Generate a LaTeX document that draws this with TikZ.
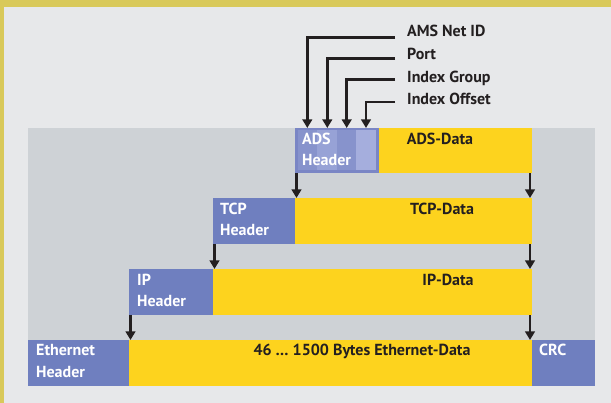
\documentclass[tikz,border=0pt]{standalone}
\usepackage{fontspec}
\setmainfont{PT Sans}
\usetikzlibrary{arrows.meta}
\definecolor{bgl}{HTML}{E7E8EA}
\definecolor{frameY}{HTML}{D9C95A}
\definecolor{panel}{HTML}{CED2D6}
\definecolor{hblue}{HTML}{6F7FBF}
\definecolor{dyel}{HTML}{FDD31E}
\definecolor{ink}{HTML}{231F20}
\definecolor{adsA}{HTML}{7A86C5}
\definecolor{adsB}{HTML}{8793CC}
\definecolor{adsC}{HTML}{97A2D6}
\definecolor{adsD}{HTML}{A5AEDD}
\begin{document}
\begin{tikzpicture}[x=1pt,y=-1pt,
  box/.style={anchor=north west,inner sep=0pt,outer sep=0pt,draw=none},
  hdr/.style={box,fill=hblue},
  dat/.style={box,fill=dyel},
  wtxt/.style={anchor=base west,inner sep=0pt,text=white,font=\bfseries\fontsize{16}{19}\selectfont},
  btxt/.style={anchor=base,inner sep=0pt,text=ink,font=\bfseries\fontsize{16}{19}\selectfont},
  ltxt/.style={anchor=base west,inner sep=0pt,text=ink,font=\bfseries\fontsize{16}{19}\selectfont},
  arr/.style={draw=ink,line width=2.8pt,-{Triangle[width=9.5pt,length=8.5pt]}}]
\useasboundingbox (0,0) rectangle (611,403);
% background
\fill[bgl] (0,0) rectangle (611,403);
\fill[frameY] (0,0) rectangle (611,7);
\fill[frameY] (0,0) rectangle (4,403);
\fill[panel] (28,128) rectangle (595,386);
% ADS row
\node[box,fill=adsA,minimum width=84pt,minimum height=45pt] (adsh) at (295,128) {};
\fill[adsB] (298,130.5) rectangle (317,170.5);
\fill[adsC] (317,130.5) rectangle (337,170.5);
\fill[adsB] (337,130.5) rectangle (356,170.5);
\fill[adsD] (356,130.5) rectangle (376,170.5);
\node[dat,minimum width=153pt,minimum height=45pt] (adsd) at (379,128) {};
% TCP row
\node[hdr,minimum width=82pt,minimum height=46pt] (tcph) at (213,198) {};
\node[dat,minimum width=237pt,minimum height=46pt] (tcpd) at (295,198) {};
% IP row
\node[hdr,minimum width=84pt,minimum height=46pt] (iph) at (129,269) {};
\node[dat,minimum width=319pt,minimum height=46pt] (ipd) at (213,269) {};
% Ethernet row
\node[hdr,minimum width=101pt,minimum height=46pt] (eth) at (28,340) {};
\node[dat,minimum width=403pt,minimum height=46pt] (ethd) at (129,340) {};
\node[hdr,minimum width=63pt,minimum height=46pt] (crc) at (532,340) {};
% texts
\node[wtxt] (t1) at (302,145) {ADS};
\node[wtxt] (t2) at (302,165.5) {Header};
\node[btxt] (t3) at (440,145) {ADS-Data};
\node[wtxt] (t4) at (220,215) {TCP};
\node[wtxt] (t5) at (220,236) {Header};
\node[btxt] (t6) at (442,215) {TCP-Data};
\node[wtxt] (t7) at (137,286) {IP};
\node[wtxt] (t8) at (137,307) {Header};
\node[btxt] (t9) at (448,286) {IP-Data};
\node[wtxt] (t10) at (36,356) {Ethernet};
\node[wtxt] (t11) at (36,377.5) {Header};
\node[btxt] (t12) at (362,356) {46 … 1500 Bytes Ethernet-Data};
\node[wtxt] (t13) at (539,356) {CRC};
% top labels
\node[ltxt] (ams) at (407,36.7) {AMS Net ID};
\node[ltxt] (port) at (407,59.5) {Port};
\node[ltxt] (ig) at (407,82.5) {Index Group};
\node[ltxt] (io) at (407,105) {Index Offset};
\draw[arr] ([xshift=-12pt,yshift=-1pt]ams.base west) -| ([xshift=12.3pt]adsh.north west);
\draw[arr] ([xshift=-12pt,yshift=1pt]port.base west) -| ([xshift=32.3pt]adsh.north west);
\draw[arr] ([xshift=-12pt,yshift=3pt]ig.base west) -| ([xshift=51.7pt]adsh.north west);
\draw[arr] ([xshift=-12pt,yshift=3pt]io.base west) -| ([xshift=71pt]adsh.north west);
% layer arrows
\draw[arr] ([xshift=1.5pt]adsh.south west) -- ([xshift=1.5pt]adsh.south west |- tcpd.north);
\draw[arr] ([xshift=-2pt]adsd.south east) -- ([xshift=-2pt]adsd.south east |- tcpd.north);
\draw[arr] ([xshift=1.5pt]tcph.south west) -- ([xshift=1.5pt]tcph.south west |- ipd.north);
\draw[arr] ([xshift=-2pt]tcpd.south east) -- ([xshift=-2pt]tcpd.south east |- ipd.north);
\draw[arr] ([xshift=1.5pt]iph.south west) -- ([xshift=1.5pt]iph.south west |- ethd.north);
\draw[arr] ([xshift=-2pt]ipd.south east) -- ([xshift=-2pt]ipd.south east |- ethd.north);
\end{tikzpicture}
\end{document}
